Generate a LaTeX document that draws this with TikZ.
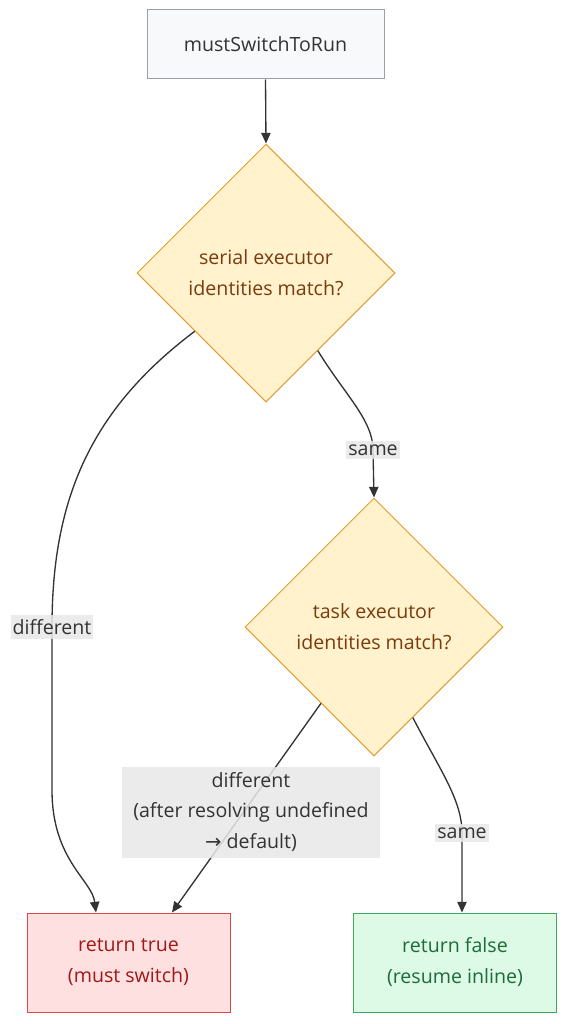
\documentclass[tikz,border=0pt]{standalone}
\usepackage{fontspec}
\setmainfont{Open Sans}
\newfontfamily\arrowfont{DejaVu Sans}
\usetikzlibrary{shapes.geometric, arrows.meta, calc}
\definecolor{StartFill}{HTML}{F8F9FB}
\definecolor{StartLine}{HTML}{9AA0AA}
\definecolor{AskFill}{HTML}{FFF2CC}
\definecolor{AskLine}{HTML}{E69B2E}
\definecolor{AskText}{HTML}{7A3B0F}
\definecolor{TrueFill}{HTML}{FFE0E0}
\definecolor{TrueLine}{HTML}{D94848}
\definecolor{TrueText}{HTML}{A01818}
\definecolor{FalseFill}{HTML}{DCFAE6}
\definecolor{FalseLine}{HTML}{3DAA5C}
\definecolor{FalseText}{HTML}{1E6B3A}
\definecolor{LabelFill}{HTML}{E8E8E8}
\definecolor{EdgeColor}{HTML}{333333}
\newcommand{\Unit}{0.75pt}
\tikzset{StartBox/.style={
    inner sep=0pt,
    minimum width=237*\Unit,
    minimum height=69*\Unit,
    draw=StartLine,
    fill=StartFill,
    text=EdgeColor,
    align=center
    }
}
\tikzset{AskDiamond/.style={
    diamond,
    aspect=1,
    inner sep=0pt,
    minimum width=258*\Unit,
    minimum height=258*\Unit,
    draw=AskLine,
    fill=AskFill,
    text=AskText,
    align=center
    }
}
\tikzset{TrueBox/.style={
    inner sep=0pt,
    minimum width=203*\Unit,
    minimum height=99*\Unit,
    draw=TrueLine,
    fill=TrueFill,
    text=TrueText,
    align=center
    }
}
\tikzset{FalseBox/.style={
    inner sep=0pt,
    minimum width=203*\Unit,
    minimum height=99*\Unit,
    draw=FalseLine,
    fill=FalseFill,
    text=FalseText,
    align=center
    }
}
\tikzset{EdgeLabel/.style={
    inner xsep=1.5pt,
    inner ysep=3pt,
    fill=LabelFill,
    fill opacity=0.85,
    text opacity=1,
    text=EdgeColor,
    align=center
    }
}
\begin{document}
\begin{tikzpicture}[x=\Unit, y=-\Unit, line width=0.75pt,
    >={Triangle[length=8pt,width=7pt]},
    font=\fontsize{14.7}{23.2}\selectfont]
    \useasboundingbox (0,0) rectangle (581,1024);

    \node (start) [StartBox] at (265.5,44.5) {mustSwitchToRun};

    \node (serial) [AskDiamond] at (266,273) {serial executor\\identities match?};

    \node (task) [AskDiamond] at (374,627) {task executor\\identities match?};

    \node (yes) [TrueBox] at (128.5,962.5) {return true\\(must switch)};

    \node (no) [FalseBox] at (455,962.5) {return false\\(resume inline)};

    % edges
    \draw [->, EdgeColor, line width=1pt] (start.south) -- (serial.north);

    \draw [->, EdgeColor, line width=1pt] ($(serial.south)!0.55!(serial.west)$)
        .. controls (90,410) and (52,500) .. (52,627)
        node [EdgeLabel] (lDiffA) {different}
        -- (52,790) .. controls (52,860) and (92,880) .. ([xshift=-32.5*\Unit]yes.north);

    \draw [->, EdgeColor, line width=1pt] ($(serial.south)!0.4!(serial.east)$)
        .. controls (345,395) and (373,420) .. (373,450)
        node [EdgeLabel] (lSameA) {same}
        -- (task.north);

    \draw [->, EdgeColor, line width=1pt] ($(task.south)!0.41!(task.west)$)
        -- ([xshift=43.5*\Unit]yes.north);
    \node (lDiffB) [EdgeLabel, minimum width=258*\Unit, minimum height=91*\Unit]
        at (251,812) {different\\(after resolving undefined\\{\arrowfont→} default)};

    \draw [->, EdgeColor, line width=1pt] ($(task.south)!0.3!(task.east)$)
        .. controls (440,770) and (462,800) .. (462,833)
        node [EdgeLabel] (lSameB) {same}
        -- ([xshift=7*\Unit]no.north);

\end{tikzpicture}
\end{document}
